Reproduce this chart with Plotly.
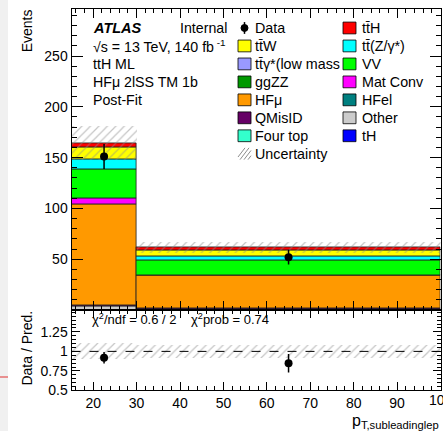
import plotly.graph_objects as go

# ---- binning and event yields (post-fit) ----
bin_edges = [15, 30, 100]
# stack components, bottom to top
comp_names = ["Other", "QMisID", "HFμ", "Mat Conv", "VV", "tt̄(Z/γ*)", "tt̄W", "tt̄H"]
comp_colors = ["#cccccc", "#660066", "#ff9900", "#ff00ff", "#00ff00", "#00ffff", "#ffff00", "#ff0000"]
other = [3.5, 1.0]
qmisid = [0.8, 0.3]
hfmu = [99.6, 32.6]
matconv = [5.8, 0.0]
vv = [28.6, 15.1]
ttz = [10.1, 3.6]
ttw = [11.9, 5.8]
tth = [4.1, 2.9]
uncertainty = [16.8, 5.4]

data_x = [22.5, 65.0]
data_y = [151, 52]

x_ticks = [20, 30, 40, 50, 60, 70, 80, 90]
x_last_tick = 100

chi2_text = "χ<sup>2</sup>/ndf = 0.6 / 2"
prob_text = "χ<sup>2</sup>prob = 0.74"

# legend entries (column 1, column 2)
legend_col1 = [("Data", None), ("tt̄W", "#ffff00"), ("tt̄γ*(low mass", "#9999ff"),
               ("ggZZ", "#009900"), ("HFμ", "#ff9900"), ("QMisID", "#660066"),
               ("Four top", "#33ffcc"), ("Uncertainty", "hatch")]
legend_col2 = [("tt̄H", "#ff0000"), ("tt̄(Z/γ*)", "#00ffff"), ("VV", "#00ff00"),
               ("Mat Conv", "#ff00ff"), ("HFel", "#008080"), ("Other", "#cccccc"),
               ("tH", "#0000ff")]

W, H = 443, 439
FONT = "Liberation Sans, Arial, sans-serif"
HATCH = "#8c8c8c"

centers = [(bin_edges[i] + bin_edges[i + 1]) / 2 for i in range(len(bin_edges) - 1)]
widths = [bin_edges[i + 1] - bin_edges[i] for i in range(len(bin_edges) - 1)]

fig = go.Figure()

components = [other, qmisid, hfmu, matconv, vv, ttz, ttw, tth]
base = [0.0] * len(centers)
for name, col, vals in zip(comp_names, comp_colors, components):
    fig.add_trace(go.Bar(x=centers, y=vals, base=list(base), width=widths, name=name,
                         marker=dict(color=col, line=dict(color="#222222", width=0.8)),
                         xaxis="x", yaxis="y", showlegend=False))
    base = [b + v for b, v in zip(base, vals)]
total = base

hatch_pattern = dict(shape="/", fgcolor=HATCH, size=6, solidity=0.2, fillmode="overlay")

# hatched uncertainty band on the total prediction
fig.add_trace(go.Bar(x=centers, y=[2 * u for u in uncertainty],
                     base=[t - u for t, u in zip(total, uncertainty)], width=widths,
                     marker=dict(color="rgba(0,0,0,0)", line=dict(width=0),
                                 pattern=hatch_pattern),
                     xaxis="x", yaxis="y", showlegend=False))

# data points
fig.add_trace(go.Scatter(x=data_x, y=data_y, mode="markers",
                         marker=dict(color="black", size=8),
                         error_y=dict(type="data", array=[d ** 0.5 for d in data_y],
                                      color="black", thickness=1.5, width=0),
                         xaxis="x", yaxis="y", showlegend=False))

# ratio panel: relative uncertainty band and data / prediction
rel_unc = [u / t for u, t in zip(uncertainty, total)]
fig.add_trace(go.Bar(x=centers, y=[2 * r for r in rel_unc], base=[1 - r for r in rel_unc],
                     width=widths,
                     marker=dict(color="rgba(0,0,0,0)", line=dict(width=0),
                                 pattern=hatch_pattern),
                     xaxis="x2", yaxis="y2", showlegend=False))
fig.add_trace(go.Scatter(x=[bin_edges[0], bin_edges[-1]], y=[1, 1], mode="lines",
                         line=dict(color="black", width=1, dash="dash"),
                         xaxis="x2", yaxis="y2", showlegend=False))
ratio = [d / t for d, t in zip(data_y, total)]
ratio_err = [d ** 0.5 / t for d, t in zip(data_y, total)]
fig.add_trace(go.Scatter(x=data_x, y=ratio, mode="markers",
                         marker=dict(color="black", size=8),
                         error_y=dict(type="data", array=ratio_err, color="black",
                                      thickness=1.5, width=0),
                         xaxis="x2", yaxis="y2", showlegend=False))

# ---- layout ----
x_dom = [71.5 / W, 440.5 / W]
main_dom = [(H - 315.7) / H, (H - 9.5) / H]
ratio_dom = [(H - 397.7) / H, (H - 315.7) / H]

axis_common = dict(showline=True, linecolor="black", linewidth=1, mirror="allticks",
                   ticks="inside", tickcolor="black", showgrid=False, zeroline=False,
                   tickfont=dict(family=FONT, size=14, color="black"))

fig.update_layout(
    width=W, height=H, margin=dict(l=0, r=0, t=0, b=0),
    paper_bgcolor="white", plot_bgcolor="white", barmode="overlay", bargap=0,
    showlegend=False,
    xaxis=dict(domain=x_dom, range=[bin_edges[0], bin_edges[-1]], anchor="y",
               showticklabels=False, dtick=10, ticklen=9,
               minor=dict(dtick=2, ticklen=4, ticks="inside", tickcolor="black"),
               **axis_common),
    yaxis=dict(domain=main_dom, range=[0, 296], anchor="x", ticklen=11,
               tickvals=[50, 100, 150, 200, 250],
               minor=dict(dtick=10, ticklen=5, ticks="inside", tickcolor="black"),
               **axis_common),
    xaxis2=dict(domain=x_dom, range=[bin_edges[0], bin_edges[-1]], anchor="y2",
                matches="x", tickvals=x_ticks + [x_last_tick],
                ticktext=[str(t) for t in x_ticks] + [""], ticklen=8,
                minor=dict(dtick=2, ticklen=4, ticks="inside", tickcolor="black"),
                **axis_common),
    yaxis2=dict(domain=ratio_dom, range=[0.5, 1.53], anchor="x2", ticklen=8,
                tickvals=[0.5, 0.75, 1, 1.25], ticktext=["0.5", "0.75", "1", "1.25"],
                minor=dict(dtick=0.05, ticklen=4, ticks="inside", tickcolor="black"),
                **axis_common),
)

shapes = []
annotations = []


def px_x(x):
    return x / W


def px_y(y):
    return 1 - y / H


def text(x, y, s, size=14, xanchor="left", yanchor="middle", angle=0):
    annotations.append(dict(x=px_x(x), y=px_y(y), xref="paper", yref="paper", text=s,
                            showarrow=False, xanchor=xanchor, yanchor=yanchor,
                            textangle=angle,
                            font=dict(family=FONT, size=size, color="black")))


# label of the last x tick, sitting on the right edge of the canvas
annotations.append(dict(x=x_last_tick, xref="x2", y=px_y(407), yref="paper",
                        text=str(x_last_tick), showarrow=False, xanchor="center",
                        yanchor="middle", font=dict(family=FONT, size=14, color="black")))

# thin grey strip with a red mark along the left edge of the canvas
shapes.append(dict(type="rect", xref="paper", yref="paper", x0=0, x1=px_x(8),
                   y0=0, y1=1, fillcolor="#f0f0f0", line=dict(width=0), layer="below"))
shapes.append(dict(type="line", xref="paper", yref="paper", x0=0, x1=px_x(8),
                   y0=px_y(384), y1=px_y(384), line=dict(color="#e03030", width=1)))

# axis titles
text(17, 8, "Events", size=14, yanchor="top", angle=-90)
text(17, 355, "Data / Pred.", size=14, angle=-90)
text(441, 429, "p<sub>T,subleadinglep</sub>", size=16, xanchor="right")

# labels in the upper left
row_y = [28.5 + 18.3 * i for i in range(8)]
text(91, row_y[0], "<b><i>ATLAS</i></b>", size=14.5)
text(178, row_y[0], "Internal", size=14.2)
text(91, row_y[1], "√s = 13 TeV, 140 fb<sup> -1</sup>", size=14.2)
text(91, row_y[2], "ttH ML", size=14.2)
text(91, row_y[3], "HFμ 2lSS TM 1b", size=14.2)
text(91, row_y[4], "Post-Fit", size=14.2)

# chi2 summary in the ratio panel
text(90, 325, chi2_text, size=13)
text(189, 325, prob_text, size=13)


def legend_entry(bx, tx, y, label, style):
    if style is None:
        shapes.append(dict(type="circle", xref="paper", yref="paper",
                           x0=px_x(bx + 6.5 - 3.5), x1=px_x(bx + 6.5 + 3.5),
                           y0=px_y(y + 3.5), y1=px_y(y - 3.5),
                           fillcolor="black", line=dict(color="black", width=1)))
        shapes.append(dict(type="line", xref="paper", yref="paper",
                           x0=px_x(bx + 6.5), x1=px_x(bx + 6.5),
                           y0=px_y(y + 6), y1=px_y(y - 6),
                           line=dict(color="black", width=1.5)))
    elif style == "hatch":
        for k in range(4):
            x0 = bx + k * 4 - 2
            xa, xb = max(x0, bx), min(x0 + 9, bx + 13)
            shapes.append(dict(type="line", xref="paper", yref="paper",
                               x0=px_x(xa), x1=px_x(xb),
                               y0=px_y(y + 6 - (xa - x0) * 12 / 9),
                               y1=px_y(y + 6 - (xb - x0) * 12 / 9),
                               line=dict(color=HATCH, width=1)))
    else:
        shapes.append(dict(type="rect", xref="paper", yref="paper",
                           x0=px_x(bx), x1=px_x(bx + 13), y0=px_y(y + 6), y1=px_y(y - 6),
                           fillcolor=style, line=dict(color="black", width=0.8),
                           layer="above"))
    text(tx, y, label, size=14.3)


for i, (label, style) in enumerate(legend_col1):
    legend_entry(238, 253, row_y[i], label, style)
for i, (label, style) in enumerate(legend_col2):
    legend_entry(343, 360, row_y[i], label, style)

fig.update_layout(shapes=shapes, annotations=annotations)
fig.write_html("out.html")
